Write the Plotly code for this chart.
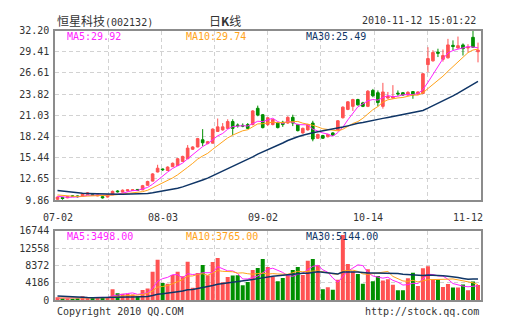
import numpy as np
import pandas as pd
import plotly.graph_objects as go

# ---- data -------------------------------------------------------------
# closes / volumes of the 29 sessions before the window (feed the moving averages)
prior_close = [12.9, 12.7, 12.6, 12.4, 12.3, 11.4, 11.3, 11.2, 11.0, 11.1,
               11.0, 10.9, 11.0, 11.2, 11.1, 10.9, 10.8, 10.9, 10.8, 10.7,
               10.8, 10.9, 10.7, 10.6, 10.5, 10.6, 10.4, 10.3, 10.2]
prior_volume = [3200, 2800, 3000, 2600, 2900, 900, 850, 800, 1000, 750,
                700, 900, 800, 650, 700, 850, 600, 700, 650, 600,
                650, 700, 550, 600, 500, 450, 400, 500, 450]

open_ = [9.95, 10.20, 10.15, 10.40, 10.40, 10.40, 10.60, 10.55, 10.40, 10.30,
         10.25, 10.55, 11.05, 10.90, 11.05, 11.10, 11.25, 11.20, 11.80, 12.35,
         13.55, 13.95, 13.75, 14.25, 14.40, 14.95, 15.30, 16.55, 16.85, 17.80,
         17.30, 17.35, 18.90, 19.10, 19.30, 20.20, 19.75, 19.70, 19.80, 19.80,
         21.95, 21.10, 19.80, 19.80, 20.00, 20.10, 20.00, 20.75, 19.80, 18.70,
         19.10, 20.00, 18.00, 18.35, 18.20, 18.70, 19.10, 20.70, 21.80, 22.20,
         23.10, 22.66, 22.20, 24.30, 24.00, 22.20, 23.30, 23.30, 23.95, 24.00,
         23.70, 24.15, 23.80, 23.90, 27.70, 28.20, 29.35, 28.40, 28.60, 30.25,
         29.90, 30.30, 29.90, 31.30, 29.40]
high = [10.32, 10.25, 10.35, 10.45, 10.45, 10.70, 10.90, 10.60, 10.55, 10.35,
        10.60, 11.10, 11.15, 11.25, 11.25, 11.25, 11.30, 11.85, 12.40, 13.40,
        14.50, 14.00, 14.30, 14.80, 15.40, 15.70, 17.10, 16.95, 18.05, 19.20,
        17.65, 19.30, 20.60, 20.00, 20.50, 20.50, 19.95, 19.95, 20.00, 21.70,
        22.30, 21.20, 20.80, 20.55, 20.10, 20.30, 20.90, 21.10, 19.90, 19.40,
        19.90, 20.30, 18.60, 18.45, 18.60, 18.80, 20.40, 22.20, 22.90, 23.20,
        23.20, 22.80, 24.35, 24.50, 24.30, 25.30, 24.10, 25.00, 24.30, 24.10,
        24.20, 24.20, 24.20, 26.60, 30.00, 29.60, 29.80, 29.70, 31.10, 30.90,
        31.40, 30.50, 30.40, 32.20, 30.60]
low = [9.86, 9.90, 10.10, 10.30, 10.20, 10.35, 10.55, 10.40, 10.35, 10.05,
       10.20, 10.50, 10.85, 10.85, 11.00, 11.05, 11.10, 11.15, 11.75, 12.30,
       13.50, 13.70, 13.70, 14.20, 14.35, 14.90, 15.25, 16.45, 16.80, 16.95,
       17.20, 17.30, 18.85, 19.00, 19.25, 18.40, 19.40, 19.45, 19.20, 19.70,
       20.90, 19.30, 19.60, 19.70, 19.30, 19.50, 19.90, 19.60, 18.90, 18.60,
       19.00, 17.60, 17.90, 17.90, 18.10, 18.30, 19.00, 20.60, 21.70, 21.60,
       22.30, 22.10, 22.10, 23.40, 22.20, 21.90, 23.20, 23.20, 23.60, 23.60,
       23.60, 23.20, 23.70, 23.80, 26.70, 28.10, 28.70, 28.10, 28.50, 29.60,
       29.80, 28.90, 29.30, 29.90, 28.00]
close = [10.25, 10.05, 10.30, 10.35, 10.30, 10.65, 10.80, 10.48, 10.50, 10.15,
         10.55, 11.00, 10.95, 11.15, 11.20, 11.20, 11.15, 11.75, 12.30, 13.30,
         14.05, 13.85, 14.20, 14.70, 15.30, 15.60, 16.70, 16.85, 17.95, 17.40,
         17.55, 19.20, 19.50, 19.50, 20.20, 19.30, 19.65, 19.60, 19.30, 21.60,
         21.05, 19.40, 20.70, 20.45, 19.40, 19.80, 20.75, 20.00, 19.00, 19.30,
         19.80, 17.90, 18.50, 18.00, 18.50, 18.40, 20.30, 22.10, 22.80, 23.10,
         22.40, 22.20, 24.20, 23.60, 22.70, 24.10, 23.50, 23.50, 23.85, 23.70,
         24.05, 23.70, 24.10, 26.50, 28.50, 29.30, 29.20, 28.90, 30.30, 30.10,
         30.20, 29.80, 30.00, 30.00, 29.60]
volume = [730, 480, 480, 300, 480, 970, 730, 560, 730, 560,
          730, 2680, 1720, 1560, 1500, 1400, 970, 2450, 2850, 6850,
          9750, 4150, 4000, 6100, 6850, 5800, 9250, 3000, 6550, 8500,
          6000, 9220, 10200, 4370, 5600, 5950, 6050, 3640, 4400, 7280,
          7770, 9950, 8000, 5600, 4600, 5340, 6070, 7280, 8000, 6070,
          9500, 9950, 8500, 2670, 3150, 2520, 4930, 15700, 8760, 6900,
          6350, 3980, 7440, 4600, 5840, 4780, 5050, 3720, 2390, 2390,
          5310, 6640, 3450, 7710, 8210, 5000, 5000, 3200, 3900, 3060,
          3100, 3800, 2400, 4500, 3690]

date_ticks = [0, 21, 41, 62, 82]
date_labels = ["07-02", "08-03", "09-02", "10-14", "11-12"]
price_ticks = ["9.86", "12.65", "15.44", "18.24", "21.03", "23.82", "26.61", "29.41", "32.20"]
volume_ticks = ["0", "4186", "8372", "12558", "16744"]

stock_name = "恒星科技"
stock_code = "002132"
timestamp = "2010-11-12 15:01:22"

# ---- derived series ---------------------------------------------------
n = len(close)
x = np.arange(n)
npre = len(prior_close)
cs = pd.Series(prior_close + close)
vs = pd.Series(prior_volume + volume, dtype=float)
periods = [5, 10, 30]
price_ma = {p: cs.rolling(p).mean().to_numpy()[npre:] for p in periods}
vol_ma = {p: vs.rolling(p).mean().to_numpy()[npre:] for p in periods}

RED = "#ff5252"
GREEN = "#008f00"
MA_COLORS = {5: "#ff22ff", 10: "#ffa31a", 30: "#0f3566"}
MA_WIDTH = {5: 1, 10: 1, 30: 1.5}
bar_colors = [RED if c >= o else GREEN for o, c in zip(open_, close)]

W, H = 505, 330
L, R = 55, 480.5
P_TOP, P_BOT = 30.5, 200
V_TOP, V_BOT = 230.7, 300.3

def px(v):
    return v / W

def py(v):
    return 1 - v / H

MONO = "DejaVu Sans Mono"
CJK = "Noto Sans CJK SC"
TXT = "#333333"
GRID = "#d2d2d2"

fig = go.Figure()

fig.add_trace(go.Candlestick(
    x=x, open=open_, high=high, low=low, close=close,
    increasing=dict(line=dict(color=RED, width=1), fillcolor=RED),
    decreasing=dict(line=dict(color=GREEN, width=1), fillcolor=GREEN),
    whiskerwidth=0, xaxis="x", yaxis="y", showlegend=False, hoverinfo="skip"))

for p in periods:
    fig.add_trace(go.Scatter(x=x, y=price_ma[p], mode="lines",
                             line=dict(color=MA_COLORS[p], width=MA_WIDTH[p]),
                             xaxis="x", yaxis="y", showlegend=False, hoverinfo="skip"))

fig.add_trace(go.Bar(x=x, y=volume, marker=dict(color=bar_colors, line=dict(width=0)),
                     xaxis="x2", yaxis="y2", showlegend=False, hoverinfo="skip"))
for p in periods:
    fig.add_trace(go.Scatter(x=x, y=vol_ma[p], mode="lines",
                             line=dict(color=MA_COLORS[p], width=MA_WIDTH[p]),
                             xaxis="x2", yaxis="y2", showlegend=False, hoverinfo="skip"))

frame = dict(showline=True, mirror=True, linecolor="#8c8c8c", linewidth=1.5)
grid = dict(gridcolor=GRID, griddash="4px,3px", gridwidth=1)
xrange_ = [-0.5, n - 0.5]
tickfont = dict(family=MONO, size=10, color=TXT)
# vertical grid splits the time span into 8 equal parts
xgrid = dict(tickmode="linear", tick0=xrange_[0], dtick=(xrange_[1] - xrange_[0]) / 8,
             showgrid=True, showticklabels=False, ticks="", zeroline=False, **grid)
ylabels = dict(showgrid=True, ticks="", ticklen=0, ticklabelstandoff=2,
               tickfont=tickfont, zeroline=False, automargin=False)

pv = [float(s) for s in price_ticks]
vv = [float(s) for s in volume_ticks]

fig.update_layout(
    width=W, height=H, margin=dict(l=0, r=0, t=0, b=0),
    paper_bgcolor="white", plot_bgcolor="white",
    bargap=0.2, boxgap=0.25,
    xaxis=dict(domain=[px(L), px(R)], range=xrange_, anchor="y",
               rangeslider=dict(visible=False), **xgrid, **frame),
    yaxis=dict(domain=[py(P_BOT), py(P_TOP)], range=[pv[0], pv[-1]], anchor="x",
               tickmode="array", tickvals=pv, ticktext=price_ticks,
               **ylabels, **grid, **frame),
    xaxis2=dict(domain=[px(L), px(R)], range=xrange_, anchor="y2", **xgrid, **frame),
    yaxis2=dict(domain=[py(V_BOT), py(V_TOP)], range=[vv[0], vv[-1]], anchor="x2",
                tickmode="array", tickvals=vv, ticktext=volume_ticks,
                **ylabels, **grid, **frame),
)

ann = []

def text(s, x_, y_, anchor="left", color=TXT, size=10, family=MONO, xref="paper"):
    ann.append(dict(text=s, x=px(x_) if xref == "paper" else x_, y=py(y_),
                    xref=xref, yref="paper",
                    xanchor=anchor, yanchor="middle", showarrow=False,
                    font=dict(family=family, size=size, color=color)))

# date labels under the price panel
for t, lab in zip(date_ticks, date_labels):
    text(lab, t, 217.3, anchor="center", xref="x")

text(f"<span style='font-family:{CJK};font-size:12px'>{stock_name}</span>({stock_code})", L, 21)
text("日<b>K</b>线", 224.5, 21, anchor="center", size=12, family=CJK)
text(timestamp, 478, 21, anchor="right")

label_x = {5: 65, 10: 184, 30: 304}
for p in periods:
    text(f"MA{p}:{price_ma[p][-1]:.2f}", label_x[p], 36.7, color=MA_COLORS[p])
    text(f"MA{p}:{vol_ma[p][-1]:.2f}", label_x[p], 236.7, color=MA_COLORS[p])

text("Copyright 2010 QQ.COM", L, 311.7)
text("http://stock.qq.com", R, 311.7, anchor="right")

fig.update_layout(annotations=ann)
fig.write_html("out.html")
